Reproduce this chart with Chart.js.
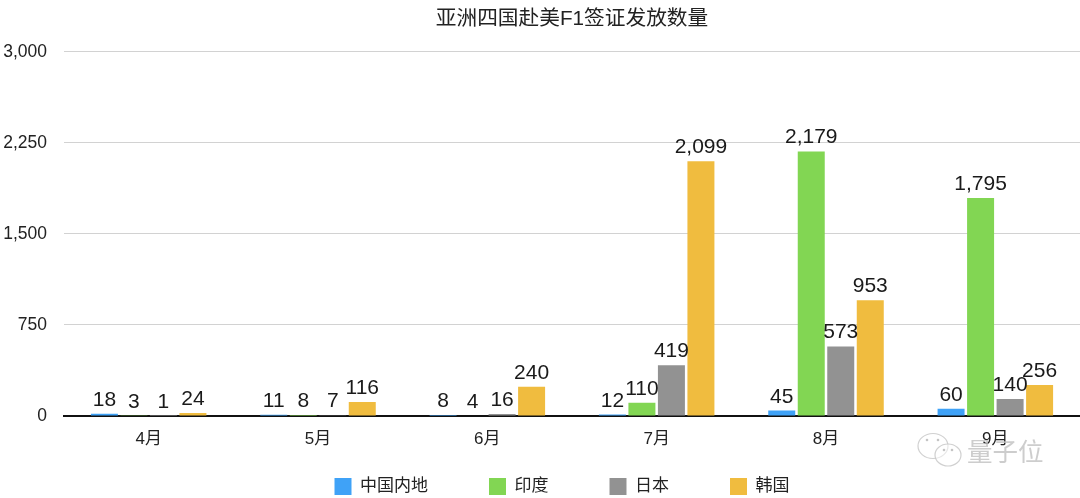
<!DOCTYPE html>
<html>
<head>
<meta charset="utf-8">
<title>亚洲四国赴美F1签证发放数量</title>
<script src="https://cdn.jsdelivr.net/npm/chart.js@4"></script>
<style>
  html, body { margin: 0; padding: 0; background: #fff; }
  canvas { display: block; }
</style>
</head>
<body>
<canvas id="chart" width="1080" height="498"></canvas>
<script>
const fontFamily = '"Liberation Sans", "Noto Sans CJK SC", sans-serif';

const categories = ["4月", "5月", "6月", "7月", "8月", "9月"];
const chinaValues = [18, 11, 8, 12, 45, 60];
const indiaValues = [3, 8, 4, 110, 2179, 1795];
const japanValues = [1, 7, 16, 419, 573, 140];
const koreaValues = [24, 116, 240, 2099, 953, 256];
const yTicks = [0, 750, 1500, 2250, 3000];

// value labels over each bar
const barLabels = {
  id: "barLabels",
  afterDatasetsDraw(chart) {
    const ctx = chart.ctx;
    ctx.save();
    ctx.font = "21px " + fontFamily;
    ctx.fillStyle = "#1a1a1a";
    ctx.textAlign = "center";
    ctx.textBaseline = "alphabetic";
    chart.data.datasets.forEach((ds, i) => {
      chart.getDatasetMeta(i).data.forEach((bar, j) => {
        ctx.fillText(ds.data[j].toLocaleString("en-US"), bar.x, bar.y - 8);
      });
    });
    ctx.restore();
  },
};

// legend sits a bit left of the plot centre, close to the bottom edge
const moveLegend = {
  id: "moveLegend",
  afterLayout(chart) {
    chart.legend.left -= 10;
    chart.legend.right -= 10;
    chart.legend.top = 417;
  },
};

// site watermark, bottom right
const watermark = {
  id: "watermark",
  afterDraw(chart) {
    const ctx = chart.ctx;
    ctx.save();
    ctx.globalAlpha = 0.8;
    ctx.strokeStyle = "#c4c4c4";
    ctx.fillStyle = "rgba(255,255,255,0.6)";
    ctx.lineWidth = 1.2;
    [[933, 446, 15, 12.5], [948, 455, 13, 11]].forEach((b) => {
      ctx.beginPath();
      ctx.ellipse(b[0], b[1], b[2], b[3], 0, 0, Math.PI * 2);
      ctx.fill();
      ctx.stroke();
    });
    ctx.fillStyle = "#b5b5b5";
    [[927, 440], [938, 440], [944, 450], [952, 450]].forEach((d) => {
      ctx.beginPath();
      ctx.arc(d[0], d[1], 1.3, 0, Math.PI * 2);
      ctx.fill();
    });
    ctx.font = '25.5px "Noto Sans CJK SC", sans-serif';
    ctx.textBaseline = "middle";
    ctx.fillStyle = "#c0c0c0";
    ctx.fillText("量子位", 967, 451);
    ctx.restore();
  },
};

new Chart("chart", {
  type: "bar",
  data: {
    labels: categories,
    datasets: [
      { label: "中国内地", data: chinaValues, backgroundColor: "#3fa2f7" },
      { label: "印度", data: indiaValues, backgroundColor: "#82d653" },
      { label: "日本", data: japanValues, backgroundColor: "#929292" },
      { label: "韩国", data: koreaValues, backgroundColor: "#f0bc3f" },
    ],
  },
  plugins: [barLabels, moveLegend, watermark],
  options: {
    responsive: false,
    animation: false,
    categoryPercentage: 0.697,
    barPercentage: 0.915,
    layout: { padding: { top: 4, bottom: 0, left: 0, right: 0 } },
    plugins: {
      tooltip: { enabled: false },
      title: {
        display: true,
        text: "亚洲四国赴美F1签证发放数量",
        fullSize: false,
        color: "#222",
        font: { family: fontFamily, size: 20.7, weight: "normal" },
        padding: { top: 3, bottom: 20 },
      },
      legend: {
        position: "bottom",
        fullSize: false,
        maxHeight: 30,
        labels: {
          boxWidth: 17,
          boxHeight: 17,
          padding: 61,
          color: "#222",
          font: { family: fontFamily, size: 17 },
        },
      },
    },
    scales: {
      x: {
        afterFit(scale) {
          scale.height = 52;
        },
        grid: { display: false },
        border: { color: "#111", width: 2 },
        ticks: {
          color: "#222",
          padding: 5,
          maxRotation: 0,
          font: { family: fontFamily, size: 17 },
        },
      },
      y: {
        min: 0,
        max: 3000,
        afterBuildTicks(scale) {
          scale.ticks = yTicks.map((v) => ({ value: v }));
        },
        afterFit(scale) {
          scale.width = 64;
        },
        grid: { color: "#d2d2d2", drawTicks: false },
        border: { display: false },
        ticks: {
          color: "#222",
          padding: 17,
          font: { family: fontFamily, size: 17.5 },
          callback: (v) => v.toLocaleString("en-US"),
        },
      },
    },
  },
});
</script>
</body>
</html>
